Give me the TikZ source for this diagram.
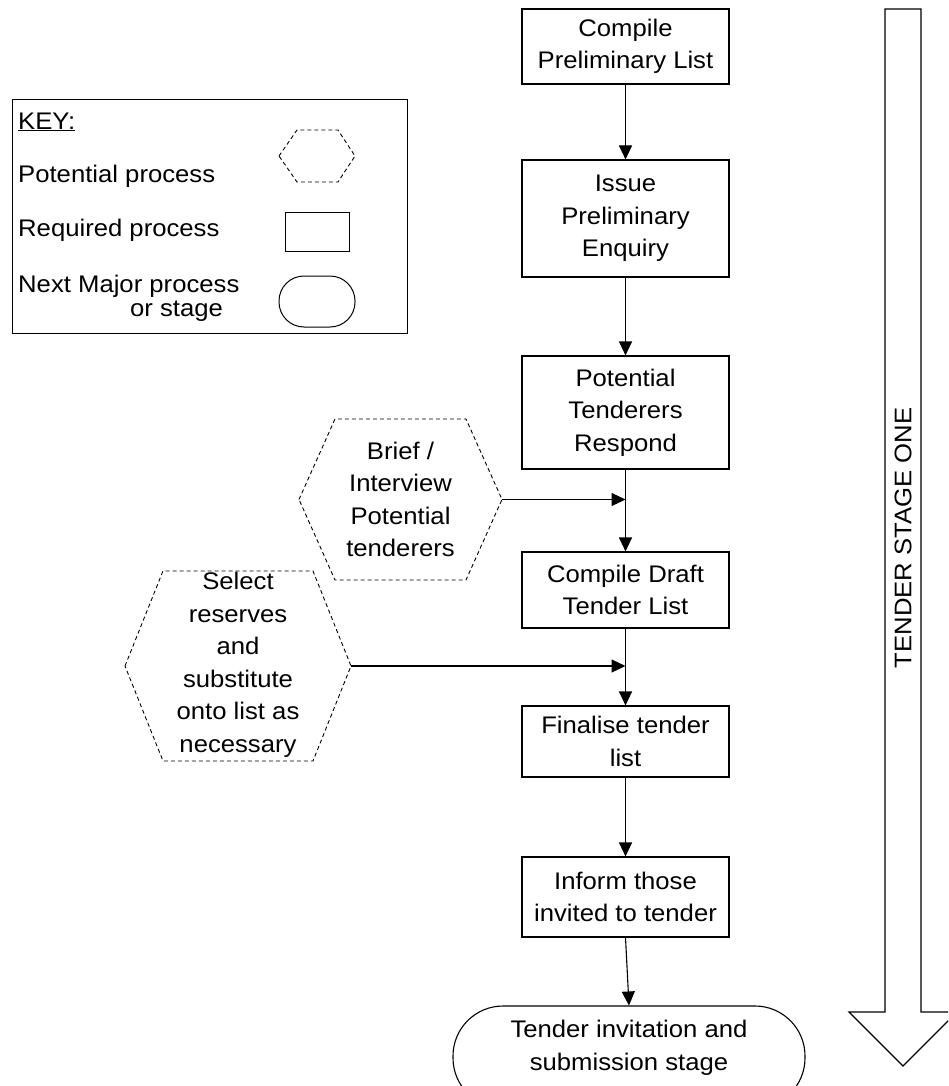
\documentclass[tikz,border=0pt]{standalone}
\usepackage{fontspec}
\setmainfont{Liberation Sans}[FakeStretch=1.07]
\usetikzlibrary{arrows.meta}
\begin{document}
\begin{tikzpicture}[x=1pt,y=-1pt,
  every node/.style={font=\fontsize{24}{32.5}\selectfont, inner sep=0pt},
  stepbox/.style={draw, line width=1.1pt, minimum width=207pt, align=center},
  terminal/.style={draw, line width=1.1pt, rounded corners=50pt,
    minimum width=352pt, minimum height=102pt},
  link/.style={line width=1.1pt, -{Triangle[length=14pt,width=13pt]}},
  hexline/.style={line width=0.9pt, dash pattern=on 4pt off 3pt},
  keyitem/.style={anchor=west}]
\useasboundingbox (0,0) rectangle (948,1086);
\clip (0,0) rectangle (948,1086);

% stage arrow on the right
\draw[line width=1.1pt, fill=white]
  (885,9) -- (921,9) -- (921,1012) -- (957,1012) -- (903,1066)
  -- (849,1012) -- (885,1012) -- cycle;
\node[rotate=90] (stage) at (903,538) {TENDER STAGE ONE};

% key
\node[draw, line width=1pt, minimum width=395pt, minimum height=234pt,
  anchor=north west] (key) at (12,99) {};
\node[keyitem] (keyhead) at (18,122) {\underline{KEY:}};
\node[keyitem] (keypot) at (18,176) {Potential process};
\node[keyitem] (keyreq) at (18,230) {Required process};
\node[keyitem] (keynext) at (18,286) {Next Major process};
\node[keyitem] (keystage) at (130,311) {or stage};
\draw[hexline] (279,156) -- (297,130) -- (338,130) -- (355,156)
  -- (338,182) -- (297,182) -- cycle;
\node[draw, line width=1pt, minimum width=64pt, minimum height=39pt]
  (keyrect) at (317,231.5) {};
\node[draw, line width=1pt, rounded corners=25pt, minimum width=76pt,
  minimum height=51pt] (keyround) at (317,301.5) {};

% main flow
\node[stepbox, minimum height=75pt]  (cpl)  at (625.5,46.5)  {Compile\\Preliminary List};
\node[stepbox, minimum height=117pt] (ipe)  at (625.5,218.5) {Issue\\Preliminary\\Enquiry};
\node[stepbox, minimum height=113pt] (ptr)  at (625.5,412.5) {Potential\\Tenderers\\Respond};
\node[stepbox, minimum height=76pt]  (cdtl) at (625.5,590)   {Compile Draft\\Tender List};
\node[stepbox, minimum height=71pt]  (ftl)  at (625.5,741.5) {Finalise tender\\list};
\node[stepbox, minimum height=80pt]  (inf)  at (625.5,897)   {Inform those\\invited to tender};
\node[terminal] (term) at (629,1057) {};
\node[align=center] (termtext) at (629,1048) {Tender invitation and\\submission stage};

% optional processes
\node[align=center] (brief) at (400.5,499.5) {Brief /\\Interview\\Potential\\tenderers};
\draw[hexline] (299,499.5) -- (335,419) -- (466,419) -- (502,499.5)
  -- (466,580) -- (335,580) -- cycle;
\coordinate (briefR) at (502,499.5);

\node[align=center] (sel) at (238,665) {Select\\reserves\\and\\substitute\\onto list as\\necessary};
\draw[hexline] (125,666) -- (163,571) -- (313,571) -- (351,666)
  -- (313,761) -- (163,761) -- cycle;
\coordinate (selR) at (351,666);

% connectors
\draw[link] (cpl.south) -- (ipe.north);
\draw[link] (ipe.south) -- (ptr.north);
\draw[link] (ptr.south) -- (cdtl.north);
\draw[link] (cdtl.south) -- (ftl.north);
\draw[link] (ftl.south) -- (inf.north);
\draw[link] (inf.south) -- (term.north);
\draw[link] (briefR) -- (briefR -| ptr.south);
\draw[link] (selR) -- (selR -| cdtl.south);
\end{tikzpicture}
\end{document}
